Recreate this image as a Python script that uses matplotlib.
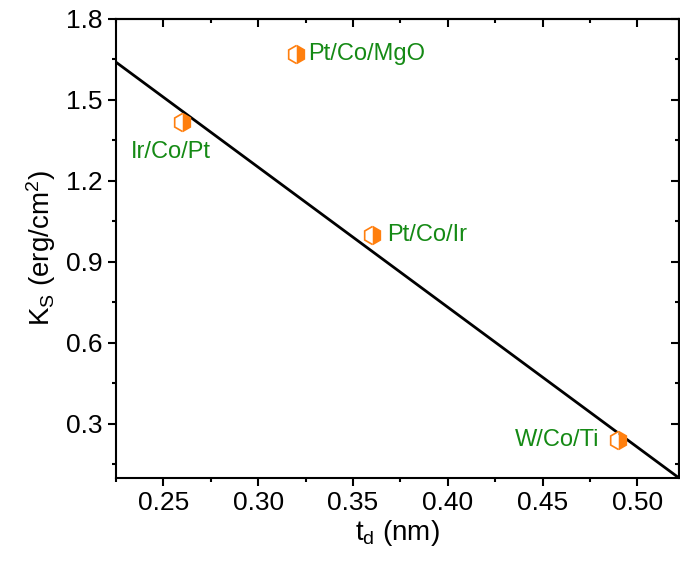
import matplotlib
matplotlib.use("Agg")
import matplotlib.pyplot as plt
from matplotlib.ticker import MultipleLocator

plt.rcParams['font.family'] = ['Liberation Sans', 'DejaVu Sans']
plt.rcParams['mathtext.default'] = 'regular'

# samples: thickness t_d (nm) and surface anisotropy K_s (erg/cm^2)
systems = ["Ir/Co/Pt", "Pt/Co/MgO", "Pt/Co/Ir", "W/Co/Ti"]
td = [0.26, 0.32, 0.36, 0.49]
ks = [1.42, 1.67, 1.00, 0.24]

# straight guide line
line_td = [0.225, 0.522]
line_ks = [1.64, 0.10]

# label offsets (points) and alignment
offsets = [(-8, -22), (9, 0), (11, 0), (-14, 0)]
aligns = ["center", "left", "left", "right"]

orange = "#FF7F0E"
green = "#158A15"

fig = plt.figure(figsize=(6.8, 5.62), dpi=100)
ax = fig.add_axes([0.1706, 0.1495, 0.8280, 0.8167])

ax.plot(line_td, line_ks, color="black", lw=2.0, zorder=2)
ax.plot(td, ks, ls="none", marker="h", markersize=13, fillstyle="right",
        color=orange, markerfacecoloralt="white", markeredgecolor=orange,
        markeredgewidth=1.2, zorder=3)

for name, x, y, off, ha in zip(systems, td, ks, offsets, aligns):
    ax.annotate(name, (x, y), xytext=off, textcoords="offset points",
                ha=ha, va="center", color=green, fontsize=17)

ax.set_xlim(0.225, 0.522)
ax.set_ylim(0.1, 1.8)
ax.xaxis.set_major_locator(MultipleLocator(0.05))
ax.xaxis.set_minor_locator(MultipleLocator(0.025))
ax.yaxis.set_major_locator(MultipleLocator(0.3))
ax.yaxis.set_minor_locator(MultipleLocator(0.15))
ax.xaxis.set_major_formatter(plt.FormatStrFormatter("%.2f"))
ax.yaxis.set_major_formatter(plt.FormatStrFormatter("%.1f"))

for s in ax.spines.values():
    s.set_linewidth(1.5)

ax.tick_params(which="both", width=1.5, labelsize=19, bottom=True, left=True,
               top=False, right=False, direction="out")
ax.tick_params(which="major", length=6)
ax.tick_params(which="minor", length=3)

# inward ticks on top and right
sx = ax.secondary_xaxis("top")
sx.xaxis.set_major_locator(MultipleLocator(0.05))
sx.xaxis.set_minor_locator(MultipleLocator(0.025))
sx.tick_params(which="major", direction="in", length=6, width=1.5, labeltop=False)
sx.tick_params(which="minor", direction="in", length=3, width=1.5)
sx.spines["top"].set_linewidth(1.5)
sy = ax.secondary_yaxis("right")
sy.yaxis.set_major_locator(MultipleLocator(0.3))
sy.yaxis.set_minor_locator(MultipleLocator(0.15))
sy.tick_params(which="major", direction="in", length=6, width=1.5, labelright=False)
sy.tick_params(which="minor", direction="in", length=3, width=1.5)
sy.spines["right"].set_linewidth(1.5)

ax.set_xlabel("t$_d$ (nm)", fontsize=20, labelpad=2)
ax.set_ylabel("K$_S$ (erg/cm$^2$)", fontsize=20, labelpad=6)

fig.savefig("out.png", dpi=100)
